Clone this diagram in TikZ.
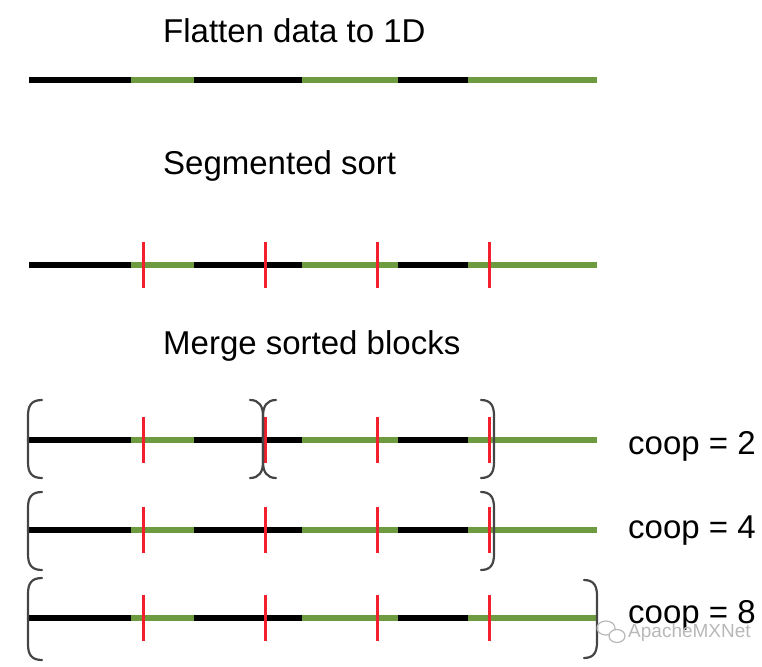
\documentclass[tikz,border=0pt]{standalone}
\usepackage{fontspec}
\setmainfont{Liberation Sans}
\usetikzlibrary{positioning}
\definecolor{SegGreen}{HTML}{6E9B3F}
\definecolor{SegRed}{HTML}{F2202C}
\definecolor{BrGray}{HTML}{454545}
\definecolor{MarkGray}{HTML}{B8B8B8}

\tikzset{
  datablk/.style={line width=5.5pt},
  cut/.style={SegRed, line width=3pt},
  brace/.style={BrGray, line width=2.2pt, line cap=round},
  caption/.style={anchor=west, inner sep=0pt, font=\fontsize{33}{40}\selectfont},
}

\begin{document}
\begin{tikzpicture}[x=1pt, y=-1pt]
    \useasboundingbox (0,0) rectangle (762,666);

    % Titles
    \node[caption] (flat) at (163, 31) {Flatten data to 1D};
    \node[caption] (segsort) at (163, 166) {Segmented sort};
    \node[caption] (merge) at (163, 346) {Merge sorted blocks};

    % Data lines (black and green runs)
    \foreach \y in {80, 265, 440, 530, 618} {
        \draw[datablk, black] (29,\y) -- (131,\y);
        \draw[datablk, SegGreen] (131,\y) -- (194,\y);
        \draw[datablk, black] (194,\y) -- (302,\y);
        \draw[datablk, SegGreen] (302,\y) -- (398,\y);
        \draw[datablk, black] (398,\y) -- (468,\y);
        \draw[datablk, SegGreen] (468,\y) -- (597,\y);
    }

    % Segment boundaries
    \foreach \y in {265, 440, 530, 618}
        \foreach \x in {143, 265, 377, 489}
            \draw[cut] (\x,\y-23) -- (\x,\y+23);

    % Brackets, coop = 2
    \draw[brace] (42,400) .. controls (31,400) and (28,406) .. (28,416) -- (28,462) .. controls (28,472) and (31,478) .. (42,478);
    \draw[brace] (250,400) .. controls (259,400) and (263,406) .. (263,416) -- (263,462) .. controls (263,472) and (259,478) .. (250,478);
    \draw[brace] (276,400) .. controls (267,400) and (263,406) .. (263,416) -- (263,462) .. controls (263,472) and (267,478) .. (276,478);
    \draw[brace] (481,400) .. controls (491,400) and (494,406) .. (494,416) -- (494,462) .. controls (494,472) and (491,478) .. (481,478);

    % Brackets, coop = 4
    \draw[brace] (42,492) .. controls (31,492) and (28,498) .. (28,508) -- (28,554) .. controls (28,564) and (31,570) .. (42,570);
    \draw[brace] (481,492) .. controls (491,492) and (494,498) .. (494,508) -- (494,554) .. controls (494,564) and (491,570) .. (481,570);

    % Brackets, coop = 8
    \draw[brace] (42,578) .. controls (31,578) and (28,584) .. (28,594) -- (28,644) .. controls (28,654) and (31,660) .. (42,660);
    \draw[brace] (584,580) .. controls (594,580) and (597,586) .. (597,596) -- (597,642) .. controls (597,652) and (594,658) .. (584,658);

    % Labels
    \node[caption] (coop2) at (628, 446) {coop = 2};
    \node[caption] (coop4) at (628, 531) {coop = 4};
    \node[caption] (coop8) at (628, 615) {coop = 8};

    % Watermark
    \draw[MarkGray, line width=1.2pt] (606,628) ellipse (9 and 7);
    \draw[MarkGray, line width=1.2pt, fill=white] (617,636) ellipse (8 and 6.5);
    \node[anchor=west, inner sep=0pt, MarkGray, font=\fontsize{19}{22}\selectfont] (mark) at (628, 633) {ApacheMXNet};
\end{tikzpicture}
\end{document}
